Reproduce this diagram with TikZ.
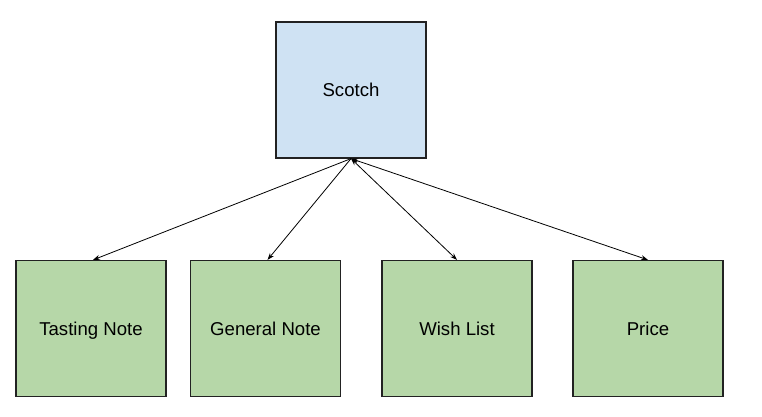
\documentclass[tikz,border=0pt]{standalone}
\usepackage{fontspec}
\setmainfont{Liberation Sans}
\usetikzlibrary{arrows.meta}
\definecolor{bluefill}{HTML}{CFE2F3}
\definecolor{greenfill}{HTML}{B6D7A8}
\definecolor{edge}{HTML}{222222}
\begin{document}
\begin{tikzpicture}[x=1pt,y=-1pt,
  box/.style={draw=edge,line width=1.2pt,minimum width=150pt,minimum height=136pt,inner sep=0pt,text depth=-2pt,font=\fontsize{18.6}{20}\selectfont},
  link/.style={line width=0.8pt,-{Stealth[length=7pt,width=5pt]}},
  dlink/.style={line width=0.8pt,{Stealth[length=7pt,width=5pt]}-{Stealth[length=7pt,width=5pt]}}]
\useasboundingbox (0,0) rectangle (762,416);
\node[box,fill=bluefill] (scotch) at (351,90) {Scotch};
\node[box,fill=greenfill] (tasting) at (91,328.5) {Tasting Note};
\node[box,fill=greenfill] (general) at (265.5,328.5) {General Note};
\node[box,fill=greenfill] (wish) at (457,328.5) {Wish List};
\node[box,fill=greenfill] (price) at (648,328.5) {Price};
\draw[link] (scotch.south) -- ([xshift=2pt]tasting.north);
\draw[link] (scotch.south) -- ([xshift=2pt]general.north);
\draw[dlink] (scotch.south) -- (wish.north);
\draw[dlink] (scotch.south) -- (price.north);
\end{tikzpicture}
\end{document}
